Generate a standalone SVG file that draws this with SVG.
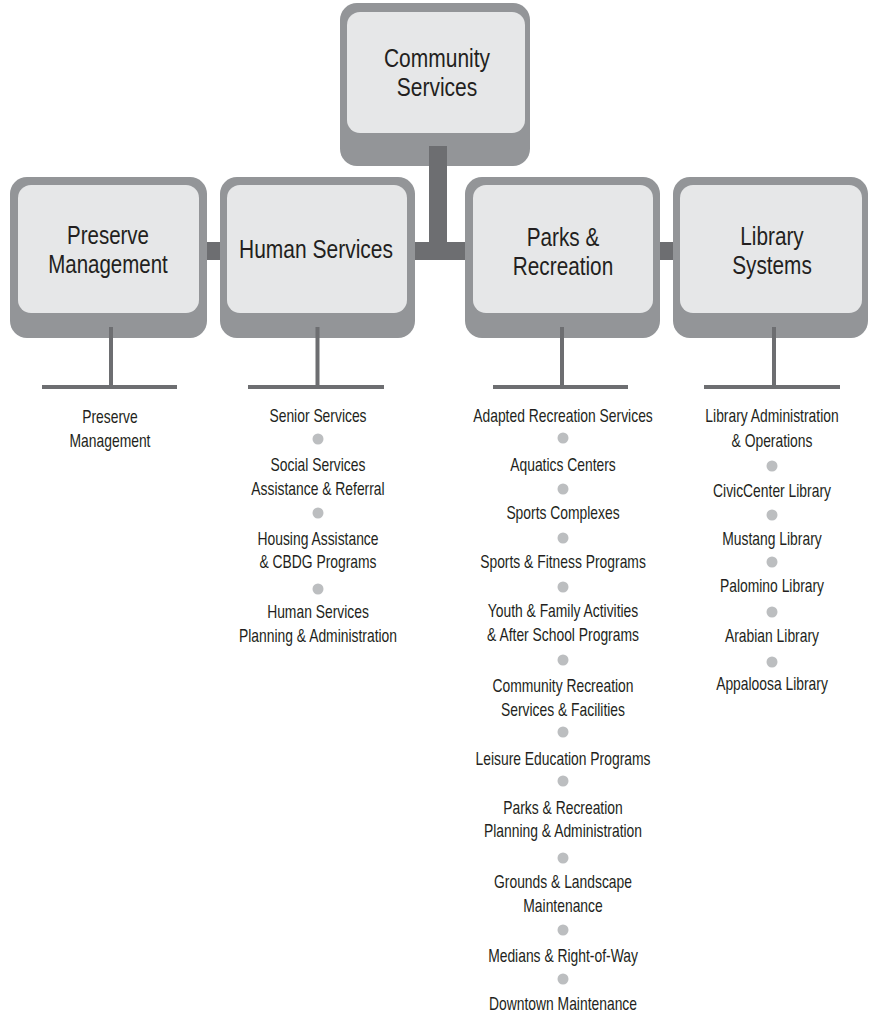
<svg xmlns="http://www.w3.org/2000/svg" width="870" height="1014" viewBox="0 0 870 1014">
<style>
.outer{fill:#939598}
.inner{fill:#e6e7e8}
.bar{fill:#6d6e71}
.t{font-family:"Liberation Sans",Arial,sans-serif;fill:#231f20;text-anchor:middle}
.title{font-size:25px}
.item{font-size:19px}
.dot{fill:#bcbec0}
</style>
<rect width="870" height="1014" fill="#ffffff"/>
<g id="community-services">
<rect class="outer" x="340" y="3" width="190" height="163" rx="17"/>
<rect class="inner" x="347" y="12" width="178" height="121" rx="13"/>
<g transform="translate(437 0) scale(0.84 1)"><text class="t title" x="0" y="67">Community</text><text class="t title" x="0" y="96">Services</text></g>
</g>
<g id="preserve-management">
<rect class="outer" x="10" y="177" width="197" height="161" rx="17"/>
<rect class="inner" x="18" y="185" width="181" height="128" rx="13"/>
<g transform="translate(108 0) scale(0.82 1)"><text class="t title" x="0" y="244">Preserve</text><text class="t title" x="0" y="273">Management</text></g>
</g>
<g id="human-services">
<rect class="outer" x="220" y="177" width="195" height="161" rx="17"/>
<rect class="inner" x="227" y="185" width="180" height="128" rx="13"/>
<g transform="translate(316 0) scale(0.84 1)"><text class="t title" x="0" y="258">Human Services</text></g>
</g>
<g id="parks-recreation">
<rect class="outer" x="465" y="177" width="195" height="161" rx="17"/>
<rect class="inner" x="473" y="185" width="180" height="128" rx="13"/>
<g transform="translate(563 0) scale(0.83 1)"><text class="t title" x="0" y="246">Parks &amp;</text><text class="t title" x="0" y="275">Recreation</text></g>
</g>
<g id="library-systems">
<rect class="outer" x="673" y="177" width="195" height="161" rx="17"/>
<rect class="inner" x="680" y="185" width="182" height="128" rx="13"/>
<g transform="translate(772 0) scale(0.83 1)"><text class="t title" x="0" y="245">Library</text><text class="t title" x="0" y="274">Systems</text></g>
</g>
<g id="connectors">
<rect class="bar" x="429" y="146" width="18" height="114"/>
<rect class="bar" x="207" y="242" width="13" height="18"/>
<rect class="bar" x="415" y="242" width="50" height="18"/>
<rect class="bar" x="660" y="242" width="13" height="18"/>
<rect class="bar" x="109" y="327" width="4" height="60"/>
<rect class="bar" x="42" y="385" width="135" height="4"/>
<rect class="bar" x="315.5" y="327" width="4" height="60"/>
<rect class="bar" x="248" y="385" width="136" height="4"/>
<rect class="bar" x="560" y="327" width="4" height="60"/>
<rect class="bar" x="493" y="385" width="135" height="4"/>
<rect class="bar" x="772" y="327" width="4" height="60"/>
<rect class="bar" x="704" y="385" width="136" height="4"/>
</g>
<g id="preserve-list">
<g transform="translate(110 0) scale(0.73 1)">
<text class="t item" x="0" y="423">Preserve</text>
<text class="t item" x="0" y="447">Management</text>
</g>
</g>
<g id="human-list">
<g transform="translate(318 0) scale(0.73 1)">
<text class="t item" x="0" y="422">Senior Services</text>
<text class="t item" x="0" y="471">Social Services</text>
<text class="t item" x="0" y="495">Assistance &amp; Referral</text>
<text class="t item" x="0" y="545">Housing Assistance</text>
<text class="t item" x="0" y="568">&amp; CBDG Programs</text>
<text class="t item" x="0" y="618">Human Services</text>
<text class="t item" x="0" y="642">Planning &amp; Administration</text>
</g>
<circle class="dot" cx="318" cy="439" r="5.5"/>
<circle class="dot" cx="318" cy="513" r="5.5"/>
<circle class="dot" cx="318" cy="589" r="5.5"/>
</g>
<g id="parks-list">
<g transform="translate(563 0) scale(0.73 1)">
<text class="t item" x="0" y="422">Adapted Recreation Services</text>
<text class="t item" x="0" y="471">Aquatics Centers</text>
<text class="t item" x="0" y="519">Sports Complexes</text>
<text class="t item" x="0" y="568">Sports &amp; Fitness Programs</text>
<text class="t item" x="0" y="617">Youth &amp; Family Activities</text>
<text class="t item" x="0" y="641">&amp; After School Programs</text>
<text class="t item" x="0" y="692">Community Recreation</text>
<text class="t item" x="0" y="716">Services &amp; Facilities</text>
<text class="t item" x="0" y="765">Leisure Education Programs</text>
<text class="t item" x="0" y="814">Parks &amp; Recreation</text>
<text class="t item" x="0" y="837">Planning &amp; Administration</text>
<text class="t item" x="0" y="888">Grounds &amp; Landscape</text>
<text class="t item" x="0" y="912">Maintenance</text>
<text class="t item" x="0" y="962">Medians &amp; Right-of-Way</text>
<text class="t item" x="0" y="1010">Downtown Maintenance</text>
</g>
<circle class="dot" cx="563" cy="438" r="5.5"/>
<circle class="dot" cx="563" cy="489" r="5.5"/>
<circle class="dot" cx="563" cy="538" r="5.5"/>
<circle class="dot" cx="563" cy="587" r="5.5"/>
<circle class="dot" cx="563" cy="660" r="5.5"/>
<circle class="dot" cx="563" cy="732" r="5.5"/>
<circle class="dot" cx="563" cy="781" r="5.5"/>
<circle class="dot" cx="563" cy="858" r="5.5"/>
<circle class="dot" cx="563" cy="930" r="5.5"/>
<circle class="dot" cx="563" cy="979" r="5.5"/>
</g>
<g id="library-list">
<g transform="translate(772 0) scale(0.73 1)">
<text class="t item" x="0" y="422">Library Administration</text>
<text class="t item" x="0" y="447">&amp; Operations</text>
<text class="t item" x="0" y="497">CivicCenter Library</text>
<text class="t item" x="0" y="545">Mustang Library</text>
<text class="t item" x="0" y="592">Palomino Library</text>
<text class="t item" x="0" y="642">Arabian Library</text>
<text class="t item" x="0" y="690">Appaloosa Library</text>
</g>
<circle class="dot" cx="772" cy="466" r="5.5"/>
<circle class="dot" cx="772" cy="515" r="5.5"/>
<circle class="dot" cx="772" cy="562" r="5.5"/>
<circle class="dot" cx="772" cy="612" r="5.5"/>
<circle class="dot" cx="772" cy="662" r="5.5"/>
</g>
</svg>
